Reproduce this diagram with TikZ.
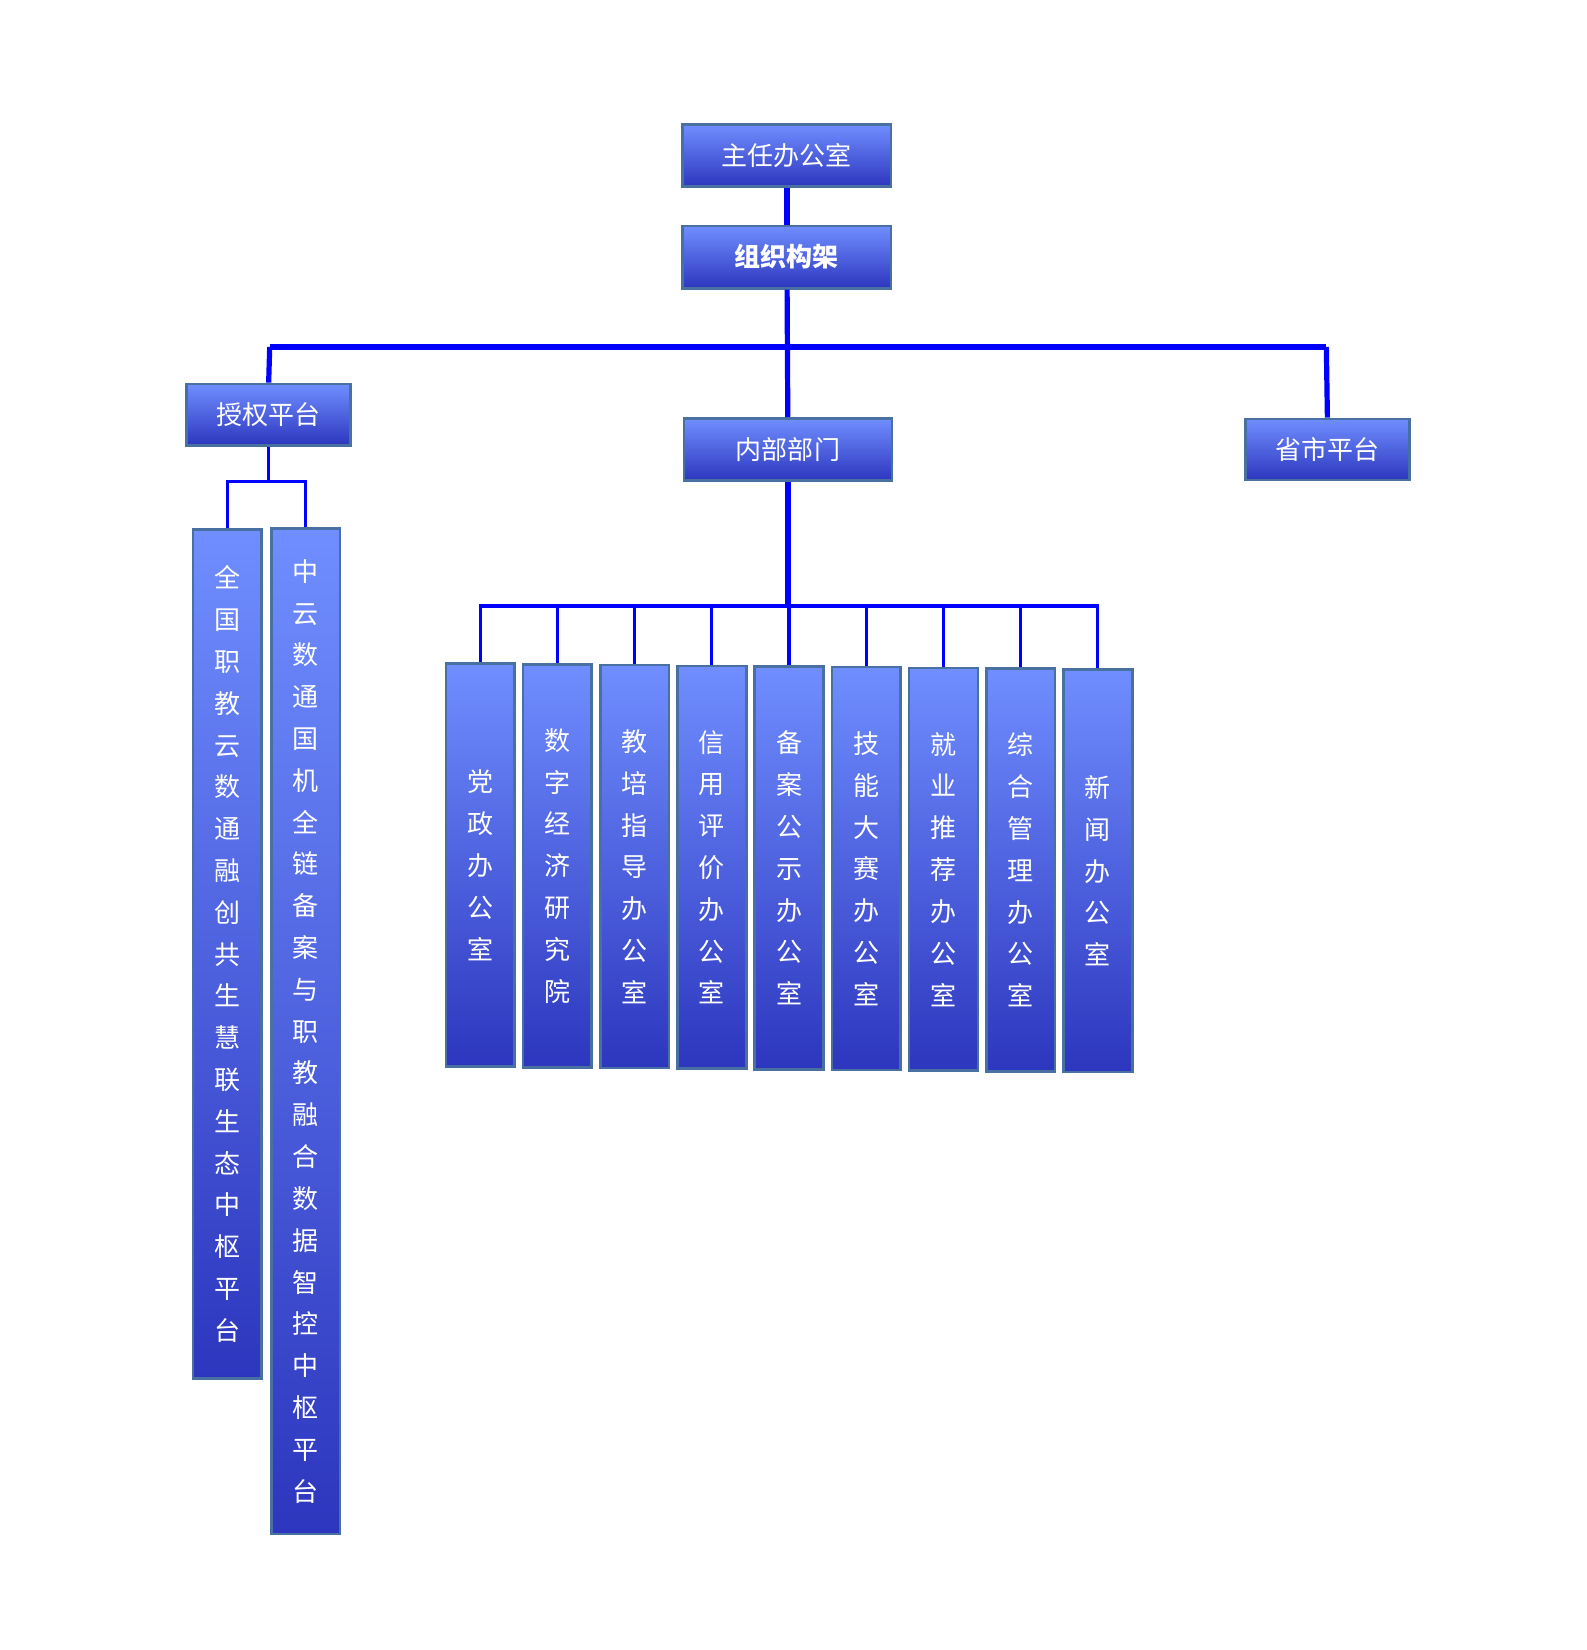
\documentclass[tikz,border=0pt]{standalone}
\usepackage{fontspec}
\setmainfont{Noto Sans CJK SC}
\usetikzlibrary{positioning}
\definecolor{boxtop}{RGB}{112,142,255}
\definecolor{boxbot}{RGB}{44,54,190}
\definecolor{boxline}{RGB}{72,112,160}
\definecolor{linkblue}{RGB}{0,0,255}
\tikzset{
  unit/.style={draw=boxline, line width=1.4pt, top color=boxtop, bottom color=boxbot,
    text=white, inner sep=0pt, font=\fontsize{14}{22.5}\selectfont, align=center},
  headbox/.style={unit, minimum width=3.94cm, minimum height=1.18cm},
  sidebox/.style={unit, minimum width=3.1cm, minimum height=1.16cm},
  link/.style={linkblue, line width=2.8pt},
  sublink/.style={linkblue, line width=1.7pt}
}
\begin{document}
\begin{tikzpicture}[x=0.02cm, y=-0.02cm]
    \useasboundingbox (0,0) rectangle (1500,1560);
    % top levels
    \node[headbox] (chief) at (744,147) {主任办公室};
    \node[headbox, font=\fontsize{14}{22.5}\selectfont\bfseries] (org) at (744,243) {组织构架};
    \node[sidebox] (auth) at (254,392) {授权平台};
    \node[headbox] (inner) at (745,425) {内部部门};
    \node[sidebox] (prov) at (1255,425) {省市平台};

    % platforms under auth
    \node[unit, minimum width=1.3cm, minimum height=16.06cm] (platA) at (215,902)
      {全\\国\\职\\教\\云\\数\\通\\融\\创\\共\\生\\慧\\联\\生\\态\\中\\枢\\平\\台};
    \node[unit, minimum width=1.3cm, minimum height=19.02cm] (platB) at (289,975)
      {中\\云\\数\\通\\国\\机\\全\\链\\备\\案\\与\\职\\教\\融\\合\\数\\据\\智\\控\\中\\枢\\平\\台};

    % departments
    \foreach \name [count=\i from 0] in {%
        {党\\政\\办\\公\\室},
        {数\\字\\经\\济\\研\\究\\院},
        {教\\培\\指\\导\\办\\公\\室},
        {信\\用\\评\\价\\办\\公\\室},
        {备\\案\\公\\示\\办\\公\\室},
        {技\\能\\大\\赛\\办\\公\\室},
        {就\\业\\推\\荐\\办\\公\\室},
        {综\\合\\管\\理\\办\\公\\室},
        {新\\闻\\办\\公\\室}} {
        \pgfmathsetmacro{\cx}{454+73*\i}
        \pgfmathsetmacro{\cy}{818+0.65*\i}
        \node[unit, minimum width=1.3cm, minimum height=7.62cm] (dept\i) at (\cx,\cy) {\name};
    }

    % connectors
    \coordinate (busL) at (255,328);
    \coordinate (busR) at (1254,328);
    \draw[link] (chief) -- (org);
    \draw[link] (org) -- (inner);
    \draw[link] (busL) -- (busR);
    \draw[link] (busL) -- (auth.north);
    \draw[link] (busR) -- (prov.north);

    \coordinate (authbus) at (254,455);
    \draw[sublink] (auth) -- (authbus);
    \draw[sublink] (platA.north) |- (authbus) -| (platB.north);

    \coordinate (deptbus) at (745,573);
    \draw[link] (inner) -- (deptbus);
    \draw[sublink] (dept0.north) |- (deptbus) -| (dept8.north);
    \foreach \i in {1,...,7}
        \draw[sublink] (dept\i.north) -- (dept\i.north |- deptbus);
\end{tikzpicture}
\end{document}
